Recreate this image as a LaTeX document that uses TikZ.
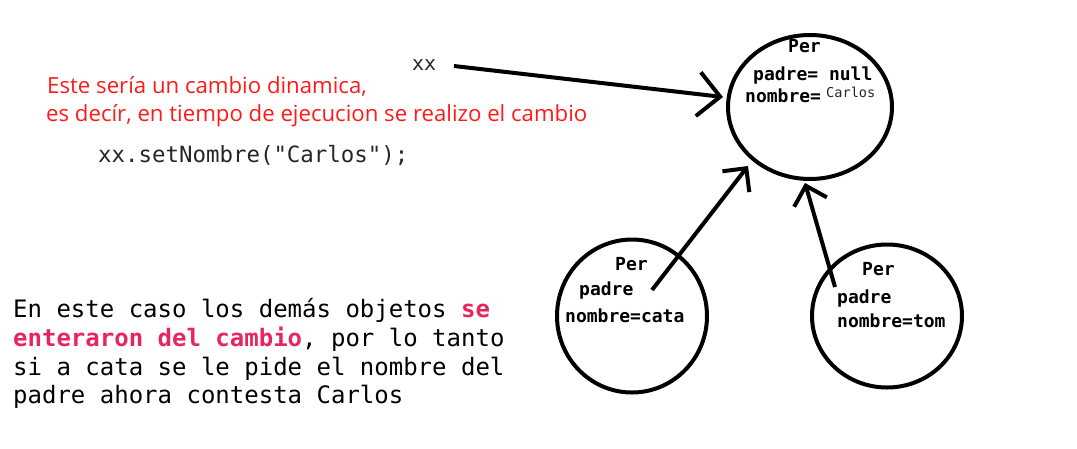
\documentclass[tikz,border=0pt]{standalone}
\usepackage{fontspec}
\setmainfont{DejaVu Sans}
\setmonofont{DejaVu Sans Mono}
\newfontfamily\redfont{Open Sans}
\usetikzlibrary{shapes.geometric,arrows.meta}
\definecolor{redtxt}{HTML}{FF1A1A}
\definecolor{pinktxt}{HTML}{E8265E}
\definecolor{codegray}{HTML}{262626}
\begin{document}
\begin{tikzpicture}[x=1pt,y=-1pt,
  obj/.style={draw,line width=4pt,ellipse,inner sep=0pt},
  lbl/.style={anchor=base west,inner sep=0pt,font=\ttfamily\bfseries\fontsize{18}{18}\selectfont},
  ptr/.style={line width=4pt,-{Straight Barb[length=#1,width=2*#1,line width=4pt]}},
  para/.style={anchor=base west,inner sep=0pt,font=\ttfamily\fontsize{24}{24}\selectfont},
  redline/.style={anchor=base west,inner sep=0pt,font=\redfont\fontsize{22.2}{22.2}\selectfont,text=redtxt}]
\useasboundingbox (0,0) rectangle (1077,448);
% objects
\node[obj,minimum width=164pt,minimum height=144pt] (top) at (810,107) {};
\node[obj,minimum width=150pt,minimum height=153pt] (cata) at (632,316) {};
\node[obj,minimum width=150pt,minimum height=143pt] (tom) at (887,316) {};
% labels top
\node[lbl] (tper) at (788,52) {Per};
\node[lbl] (tpadre) at (753,80) {padre= null};
\node[lbl] (tnom) at (745,102) {nombre=};
\node[anchor=base west,inner sep=0pt,font=\ttfamily\fontsize{13.6}{13.6}\selectfont,text=codegray] (tcarlos) at (826,97) {Carlos};
% labels cata
\node[lbl] (cper) at (615,270) {Per};
\node[lbl] (cpadre) at (579,295) {padre};
\node[lbl] (cnom) at (565,322) {nombre=cata};
% labels tom
\node[lbl] (mper) at (862,275) {Per};
\node[lbl] (mpadre) at (837,303) {padre};
\node[lbl] (mnom) at (837,327) {nombre=tom};
% xx
\node[anchor=base west,inner sep=0pt,font=\ttfamily\fontsize{20}{20}\selectfont,text=codegray] (xx) at (412,70) {xx};
% red text
\node[redline] (r1) at (47,93) {Este sería un cambio dinamica,};
\node[redline] (r2) at (46,121) {es decír, en tiempo de ejecucion se realizo el cambio};
% code
\node[anchor=base west,inner sep=0pt,font=\ttfamily\fontsize{22.4}{22.4}\selectfont,text=codegray] (code) at (98,162) {xx.setNombre("Carlos");};
% paragraph
\node[para] (p1) at (13,317) {En este caso los demás objetos \textcolor{pinktxt}{\bfseries se}};
\node[para] (p2) at (13,346) {\textcolor{pinktxt}{\bfseries enteraron del cambio}, por lo tanto};
\node[para] (p3) at (13,375) {si a cata se le pide el nombre del};
\node[para] (p4) at (13,403) {padre ahora contesta Carlos};
% connectors
\coordinate (xxs) at (454,66);
\coordinate (xxe) at (723,97);
\coordinate (cs) at (652,290);
\coordinate (ce) at (748,166);
\coordinate (ms) at (835,287);
\coordinate (me) at (805,183);
\draw[ptr=22pt] (xxs) -- (xxe);
\draw[ptr=17pt] (cs) -- (ce);
\draw[ptr=17pt] (ms) -- (me);
\end{tikzpicture}
\end{document}
